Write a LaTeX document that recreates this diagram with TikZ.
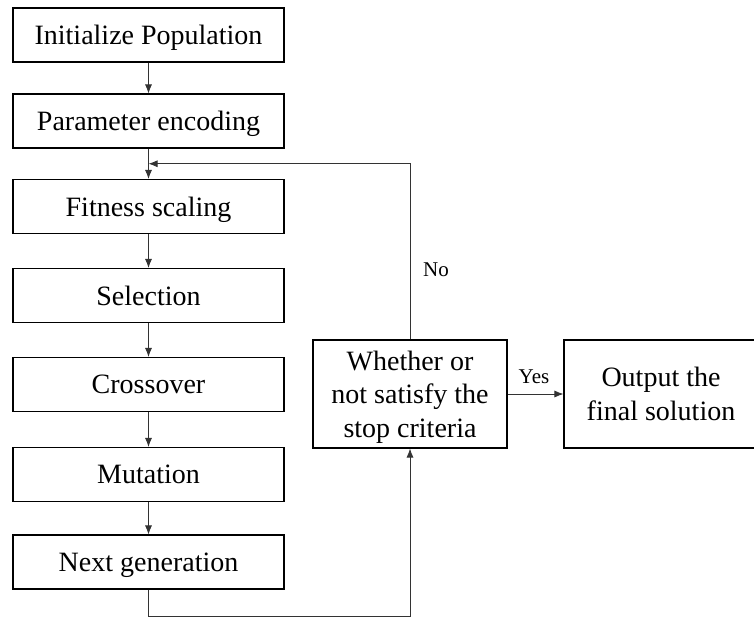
\documentclass[tikz,border=0pt]{standalone}
\usepackage{fontspec}
\setmainfont{Liberation Serif}
\usetikzlibrary{arrows.meta,calc}

\begin{document}
\begin{tikzpicture}[x=1pt,y=-1pt,
  blk/.style={draw,black,line width=1.1pt,minimum width=271pt,minimum height=54pt,inner sep=0pt,text depth=0pt,font=\fontsize{28}{33.5}\selectfont,align=center},
  flow/.style={-{Latex[length=9pt,width=7pt]},line width=0.8pt,black!80},
  lbl/.style={font=\fontsize{21}{24}\selectfont}]
\useasboundingbox (0,0) rectangle (754,619);

% main column
\node[blk] (init) at (148.5,35) {Initialize Population};
\node[blk] (enc) at (148.5,121) {Parameter encoding};
\node[blk] (fit) at (148.5,206.5) {Fitness scaling};
\node[blk] (sel) at (148.5,295.5) {Selection};
\node[blk] (cro) at (148.5,384.5) {Crossover};
\node[blk] (mut) at (148.5,474.5) {Mutation};
\node[blk] (next) at (148.5,562) {Next generation};

% check and output
\node[blk,minimum width=194pt,minimum height=108pt] (check) at (410,394) {Whether or\\not satisfy the\\stop criteria};
\node[blk,minimum width=200pt,minimum height=108pt] (out) at (664,394) {};
\node[blk,draw=none] (outtxt) at (661,394) {Output the\\final solution};

\coordinate (merge) at ($(enc.south)!0.5!(fit.north)$);
\coordinate (low) at ($(next.south)+(0,27)$);

\draw[flow] (init) -- (enc);
\draw[flow] (enc) -- (fit);
\draw[flow] (fit) -- (sel);
\draw[flow] (sel) -- (cro);
\draw[flow] (cro) -- (mut);
\draw[flow] (mut) -- (next);

% loop back
\draw[flow] (check.north) |- (merge);
\draw[flow] (next.south) -- (low) -| (check.south);
\draw[flow] (check) -- (out);

\node[lbl] (no) at (436,270) {No};
\node[lbl] (yes) at (534,377) {Yes};
\end{tikzpicture}
\end{document}
